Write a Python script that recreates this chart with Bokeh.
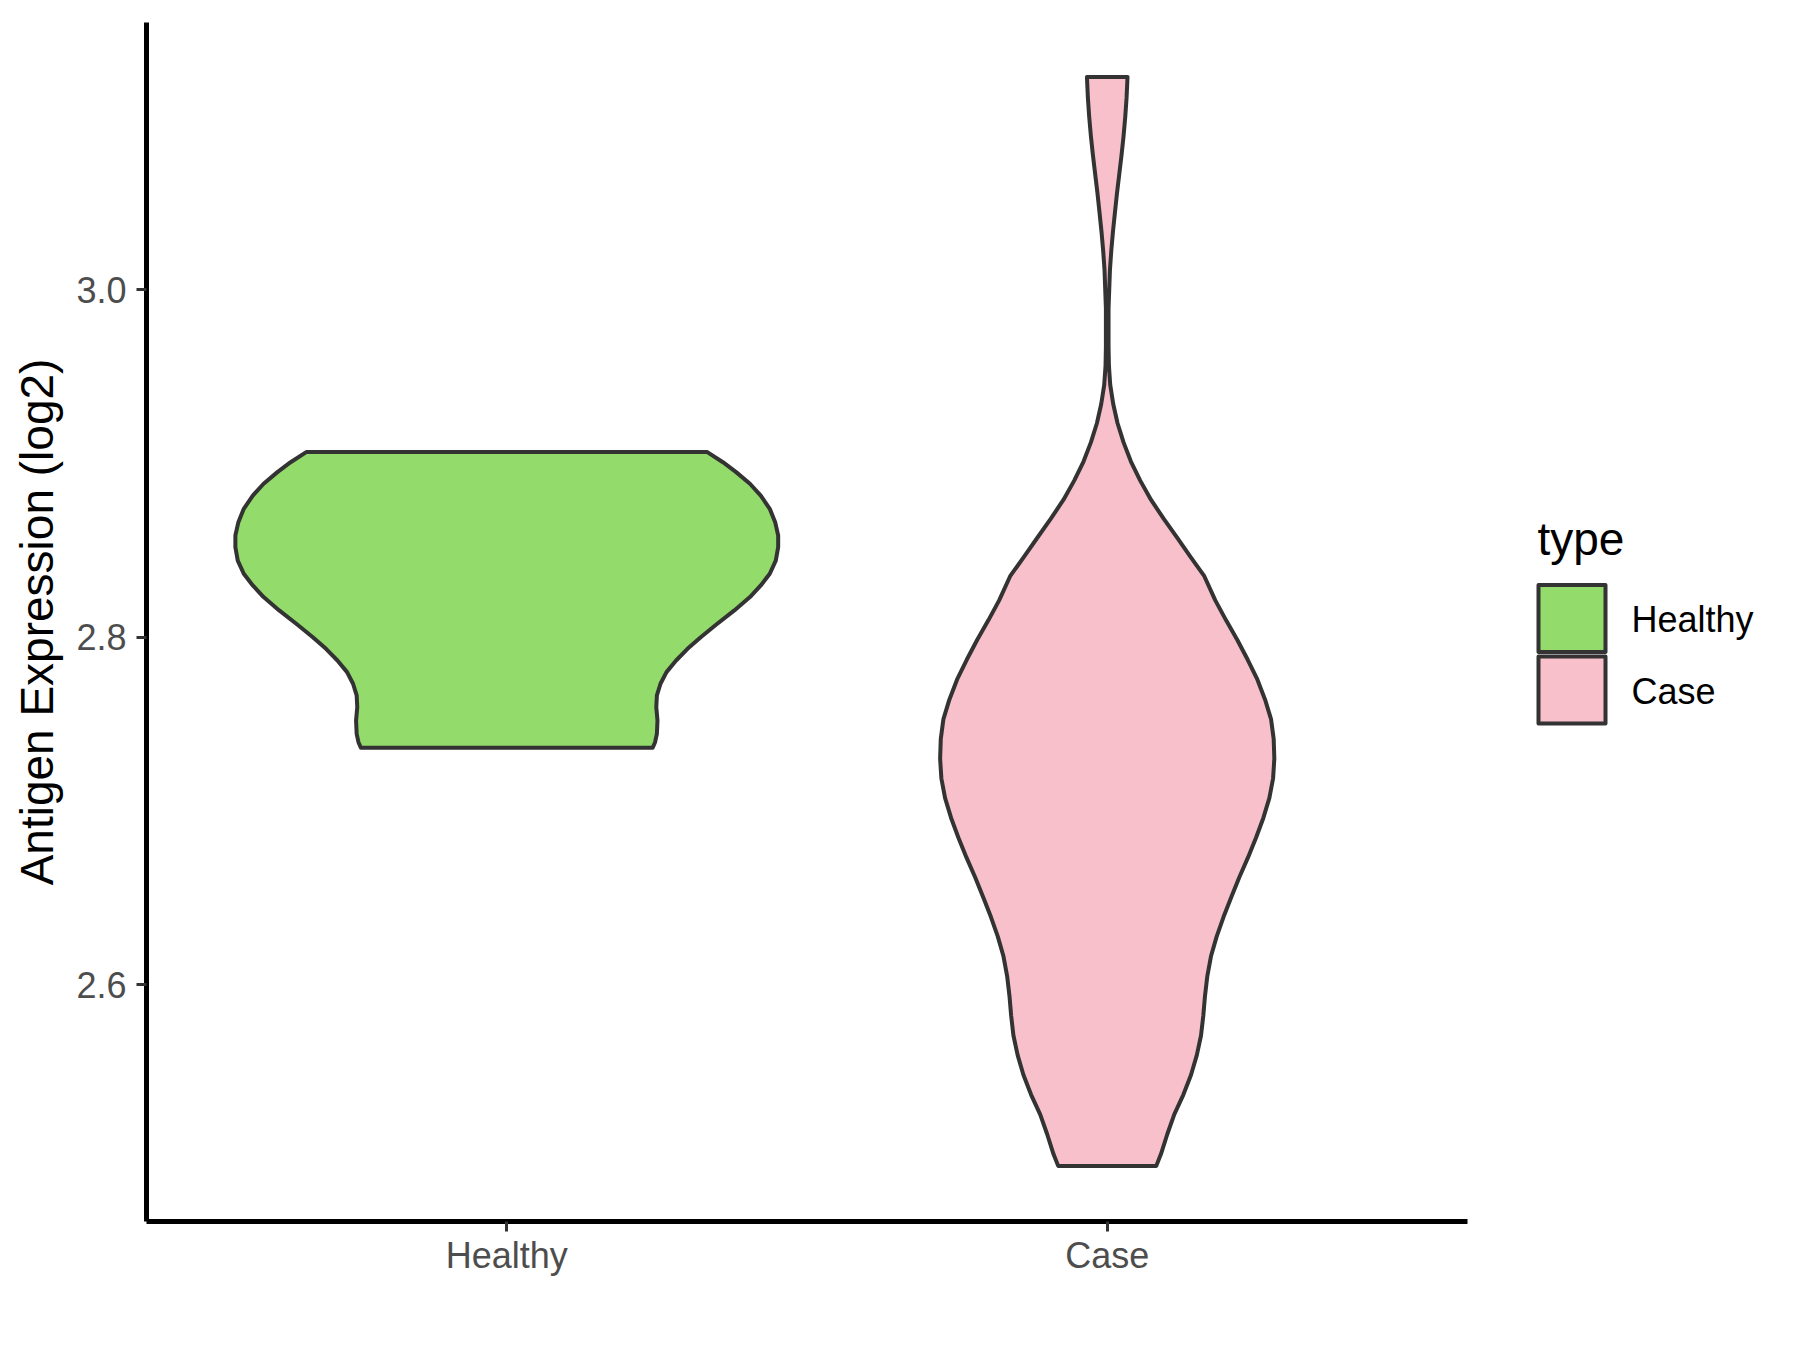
from bokeh.plotting import figure
from bokeh.layouts import row
from bokeh.models import Range1d, FixedTicker
from bokeh.core.properties import value
from bokeh.embed import file_html
from bokeh.resources import INLINE

# Violin outlines: expression value (log2) and the half-width of the
# density outline at that value, in category units (top to bottom).
categories = ["Healthy", "Case"]
fill_colors = ["#93DB6A", "#F7C0CB"]

healthy_y = [2.9066, 2.9008, 2.8951, 2.8884, 2.8816, 2.8740, 2.8663, 2.8586,
             2.8519, 2.8442, 2.8366, 2.8299, 2.8232, 2.8155, 2.8074, 2.8001,
             2.7934, 2.7867, 2.7800, 2.7733, 2.7666, 2.7599, 2.7522, 2.7445,
             2.7397, 2.7365]
healthy_halfwidth = [0.334, 0.360, 0.382, 0.405, 0.423, 0.438, 0.447, 0.452,
                     0.452, 0.448, 0.438, 0.423, 0.405, 0.379, 0.349, 0.323,
                     0.301, 0.282, 0.266, 0.256, 0.250, 0.249, 0.251, 0.250,
                     0.247, 0.243]

case_y = [3.1225, 3.1104, 3.0994, 3.0884, 3.0774, 3.0664, 3.0554, 3.0443,
          3.0333, 3.0223, 3.0113, 2.9893, 2.9673, 2.9563, 2.9453, 2.9343,
          2.9232, 2.9122, 2.9012, 2.8902, 2.8792, 2.8682, 2.8572, 2.8462,
          2.8352, 2.8213, 2.8098, 2.7985, 2.7871, 2.7758, 2.7643, 2.7530,
          2.7416, 2.7302, 2.7188, 2.7075, 2.6961, 2.6847, 2.6734, 2.6620,
          2.6506, 2.6392, 2.6278, 2.6165, 2.6051, 2.5937, 2.5823, 2.5709,
          2.5596, 2.5482, 2.5368, 2.5255, 2.5141, 2.5027, 2.4959]
case_halfwidth = [0.0338, 0.0322, 0.0300, 0.0272, 0.0238, 0.0200, 0.0162, 0.0128,
                  0.0095, 0.0067, 0.0045, 0.0022, 0.0022, 0.0028, 0.0050, 0.0100,
                  0.0172, 0.0272, 0.0395, 0.0550, 0.0728, 0.0942, 0.1167, 0.1390,
                  0.1617, 0.1800, 0.1980, 0.2167, 0.2340, 0.2500, 0.2628, 0.2728,
                  0.2772, 0.2783, 0.2762, 0.2700, 0.2600, 0.2478, 0.2345, 0.2200,
                  0.2067, 0.1938, 0.1822, 0.1728, 0.1667, 0.1628, 0.1600, 0.1562,
                  0.1492, 0.1395, 0.1267, 0.1117, 0.1000, 0.0895, 0.0817]

y_ticks = [2.6, 2.8, 3.0]

FONT = "Liberation Sans"
OUTLINE = "#333333"

p = figure(width=1500, height=1350, output_backend="svg", toolbar_location=None,
           x_range=Range1d(0.4, 2.6), y_range=Range1d(2.4639, 3.1538),
           min_border_left=146, min_border_right=33,
           min_border_top=22, min_border_bottom=129)
p.outline_line_color = None
p.grid.visible = False
p.background_fill_color = "white"
p.border_fill_color = "white"


def violin_outline(center, ys, hws):
    xs = [center - w for w in hws] + [center + w for w in reversed(hws)]
    yy = list(ys) + list(reversed(ys))
    return xs, yy


for i, (ys, hws) in enumerate([(healthy_y, healthy_halfwidth), (case_y, case_halfwidth)]):
    xs, yy = violin_outline(i + 1, ys, hws)
    p.patch(xs, yy, fill_color=fill_colors[i], line_color=OUTLINE,
            line_width=4, line_join="round")

# axes
for ax in (p.xaxis[0], p.yaxis[0]):
    ax.axis_line_color = "black"
    ax.axis_line_width = 5
    ax.major_tick_line_color = OUTLINE
    ax.major_tick_line_width = 3
    ax.major_tick_out = 10
    ax.major_tick_in = 0
    ax.minor_tick_line_color = None
    ax.major_label_text_font = FONT
    ax.major_label_text_font_size = "36px"
    ax.major_label_text_color = "#4D4D4D"
    ax.axis_label_text_font = FONT
    ax.axis_label_text_font_style = "normal"
    ax.axis_label_text_color = "black"

p.xaxis.ticker = FixedTicker(ticks=[1, 2])
p.xaxis.major_label_overrides = {i + 1: c for i, c in enumerate(categories)}
p.xaxis.major_label_standoff = 3

p.yaxis.ticker = FixedTicker(ticks=y_ticks)
p.yaxis.major_label_overrides = {t: f"{t:.1f}" for t in y_ticks}
p.yaxis.major_label_standoff = 10
p.yaxis.axis_label = "Antigen Expression (log2)"
p.yaxis.axis_label_text_font_size = "46px"
p.yaxis.axis_label_standoff = 10

# Legend panel to the right of the plot. Its frame lines up with the
# plot frame (rows 22..1221), and its ranges are canvas pixels with y
# pointing down, so the keys can be laid out like a guide box.
lg = figure(width=300, height=1350, output_backend="svg", toolbar_location=None,
            x_axis_type=None, y_axis_type=None,
            x_range=Range1d(1500, 1800), y_range=Range1d(1221, 22),
            min_border_left=0, min_border_right=0,
            min_border_top=22, min_border_bottom=129)
lg.outline_line_color = None
lg.grid.visible = False
lg.background_fill_color = "white"
lg.border_fill_color = "white"

key_left, key_size, key_top, key_pitch = 1538, 67, 584.5, 71.5
tops = [key_top + i * key_pitch for i in range(len(categories))]
lg.quad(left=[key_left] * len(categories), right=[key_left + key_size] * len(categories),
        top=tops, bottom=[t + key_size for t in tops],
        fill_color=fill_colors, line_color=OUTLINE, line_width=4, line_join="round")
lg.text(x=[key_left + key_size + 26] * len(categories),
        y=[t + key_size / 2 + 1 for t in tops], text=categories,
        text_font=value(FONT), text_font_size="36px", text_color="black",
        text_baseline="middle", text_align="left")
lg.text(x=[1537], y=[538], text=["type"],
        text_font=value(FONT), text_font_size="46px", text_color="black",
        text_baseline="alphabetic", text_align="left")

layout = row(p, lg, spacing=0)
open("out.html", "w").write(file_html(layout, INLINE))
